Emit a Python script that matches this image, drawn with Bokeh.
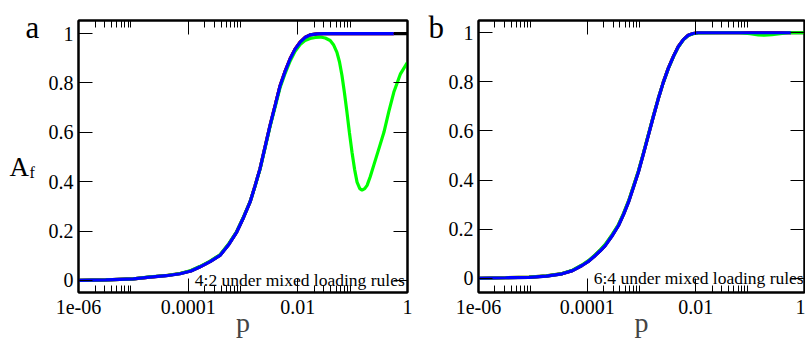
from bokeh.plotting import figure
from bokeh.layouts import row
from bokeh.models import (FixedTicker, LogAxis, LinearAxis, Label, Range1d,
                          CustomJSTickFormatter)
from bokeh.embed import file_html
from bokeh.resources import INLINE

# ---------------- data ----------------
# panel a : 4:2 under mixed loading rules   (x given as log10 p)
a_lp = [-6.0, -5.5, -5.0, -4.7, -4.4, -4.15, -3.95, -3.79, -3.6, -3.42, -3.27,
        -3.115, -2.99, -2.872, -2.78, -2.69, -2.6, -2.506, -2.41, -2.323, -2.23,
        -2.14, -2.05, -1.958, -1.87, -1.775, -1.65, -1.53, -1.2, -0.8, -0.5, -0.25]
a_blue = [0.0, 0.002, 0.006, 0.013, 0.019, 0.027, 0.038, 0.054, 0.076, 0.101, 0.142,
          0.196, 0.255, 0.317, 0.383, 0.452, 0.538, 0.628, 0.712, 0.789, 0.848,
          0.898, 0.937, 0.965, 0.984, 0.995, 0.999, 1.0, 1.0, 1.0, 1.0, 1.0]
a_red = [0.0, 0.002, 0.006, 0.013, 0.020, 0.028, 0.039, 0.055, 0.077, 0.103, 0.144,
         0.197, 0.256, 0.318, 0.384, 0.453, 0.539, 0.629, 0.713, 0.790, 0.849,
         0.899, 0.938, 0.966, 0.984, 0.995, 0.999, 1.0, 1.0, 1.0, 1.0, 1.0]
a_black_lp = a_lp + [0.0]
a_black = [0.0, 0.002, 0.006, 0.013, 0.019, 0.027, 0.038, 0.054, 0.076, 0.101, 0.142,
           0.196, 0.255, 0.317, 0.383, 0.452, 0.538, 0.628, 0.712, 0.789, 0.848,
           0.898, 0.937, 0.965, 0.984, 0.995, 0.999, 1.0, 1.0, 1.0, 1.0, 1.0, 1.0]
a_green_lp = [-6.0, -5.5, -5.0, -4.7, -4.4, -4.15, -3.95, -3.79, -3.6, -3.42, -3.27,
              -3.115, -2.99, -2.872, -2.78, -2.69, -2.6, -2.506, -2.41, -2.323, -2.23,
              -2.14, -2.05, -1.958, -1.87, -1.775, -1.68, -1.592, -1.5, -1.41, -1.35,
              -1.287, -1.24, -1.195, -1.15, -1.104, -1.06, -1.012, -0.965, -0.92,
              -0.87, -0.829, -0.78, -0.737, -0.68, -0.616, -0.52, -0.43, -0.34,
              -0.25, -0.128, 0.0]
a_green = [0.0, 0.002, 0.006, 0.014, 0.020, 0.028, 0.040, 0.056, 0.078, 0.104, 0.145,
           0.198, 0.257, 0.318, 0.382, 0.450, 0.535, 0.624, 0.706, 0.782, 0.840,
           0.889, 0.928, 0.956, 0.972, 0.980, 0.984, 0.986, 0.982, 0.972, 0.955,
           0.924, 0.885, 0.83, 0.76, 0.681, 0.60, 0.519, 0.45, 0.398,
           0.372, 0.366, 0.372, 0.385, 0.42, 0.466, 0.535, 0.6, 0.685,
           0.762, 0.837, 0.884]

# panel b : 6:4 under mixed loading rules
b_lp = [-6.0, -5.5, -5.07, -4.75, -4.462, -4.27, -4.095, -3.97, -3.85, -3.76, -3.668,
        -3.55, -3.423, -3.33, -3.24, -3.15, -3.057, -2.965, -2.874, -2.78, -2.69,
        -2.6, -2.507, -2.41, -2.324, -2.23, -2.14, -2.05, -1.958, -1.5, -1.0, -0.5,
        -0.25]
b_blue = [0.0, 0.002, 0.004, 0.009, 0.018, 0.031, 0.052, 0.07, 0.093, 0.112, 0.133,
          0.17, 0.215, 0.26, 0.31, 0.37, 0.433, 0.507, 0.582, 0.66, 0.732,
          0.797, 0.855, 0.905, 0.943, 0.972, 0.99, 0.997, 1.0, 1.0, 1.0, 1.0, 1.0]
b_red = [0.0, 0.002, 0.005, 0.010, 0.019, 0.032, 0.053, 0.072, 0.095, 0.115, 0.136,
         0.173, 0.218, 0.263, 0.313, 0.373, 0.436, 0.509, 0.584, 0.662, 0.733,
         0.798, 0.856, 0.906, 0.944, 0.972, 0.99, 0.997, 1.0, 1.0, 1.0, 1.0, 1.0]
b_black_lp = b_lp + [0.0]
b_black = [0.0, 0.002, 0.004, 0.009, 0.018, 0.031, 0.052, 0.07, 0.093, 0.112, 0.133,
           0.17, 0.215, 0.26, 0.31, 0.37, 0.433, 0.507, 0.582, 0.66, 0.732,
           0.797, 0.855, 0.905, 0.943, 0.972, 0.99, 0.997, 1.0, 1.0, 1.0, 1.0, 1.0, 1.0]
b_green_lp = [-6.0, -5.5, -5.07, -4.75, -4.462, -4.27, -4.095, -3.97, -3.85, -3.76,
              -3.668, -3.55, -3.423, -3.33, -3.24, -3.15, -3.057, -2.965, -2.874,
              -2.78, -2.69, -2.6, -2.507, -2.41, -2.324, -2.23, -2.14, -2.05, -1.958,
              -1.5, -1.2, -1.0, -0.85, -0.74, -0.6, -0.45, -0.3, 0.0]
b_green = [0.0, 0.002, 0.005, 0.010, 0.019, 0.033, 0.054, 0.073, 0.096, 0.116, 0.138,
           0.175, 0.219, 0.264, 0.314, 0.374, 0.437, 0.510, 0.585, 0.662, 0.733,
           0.797, 0.854, 0.904, 0.942, 0.971, 0.989, 0.996, 0.999,
           1.0, 1.0, 0.996, 0.991, 0.99, 0.992, 0.996, 1.0, 1.0]

x_ticks = [1e-6, 1e-4, 1e-2, 1.0]
x_tick_labels = ["1e-06", "0.0001", "0.01", "1"]
y_ticks = [0, 0.2, 0.4, 0.6, 0.8, 1]
y_tick_labels = ["0", "0.2", "0.4", "0.6", "0.8", "1"]
panel_letters = ["a", "b"]
panel_notes = ["4:2 under mixed loading rules", "6:4 under mixed loading rules"]
x_title = "p"
y_title_main, y_title_sub = "A", "f"

FONT = "Liberation Serif"
H = 342
x_minor = [k * t for t in x_ticks[:-1] for k in range(2, 10)]


def to_p(lp):
    return [10.0 ** v for v in lp]


def style_axis(ax, ticker, overrides=None, labels=True, minor=True):
    ax.ticker = ticker
    ax.axis_line_width = 2
    ax.axis_line_color = "black"
    ax.major_tick_in = 14
    ax.major_tick_out = 0
    ax.minor_tick_in = 7
    ax.minor_tick_out = 0
    ax.major_tick_line_color = "black"
    ax.major_tick_line_width = 1
    ax.minor_tick_line_color = "black" if minor else None
    ax.minor_tick_line_width = 1
    if labels:
        ax.major_label_overrides = overrides
        ax.major_label_text_font = FONT
        ax.major_label_text_font_size = "20px"
        ax.major_label_text_color = "black"
    else:
        ax.formatter = CustomJSTickFormatter(code="return ''")
        ax.major_label_standoff = 0
        ax.major_label_text_font_size = "1px"


def text_strip(width, items):
    """Plain strip (no axes, no title, frame = whole strip) for the texts that
    sit left of a panel's frame; data space equals pixel space."""
    s = figure(width=width, height=H, x_range=Range1d(0, width), y_range=Range1d(0, H),
               x_axis_location=None, y_axis_location=None, title=None,
               output_backend="svg", toolbar_location=None,
               min_border_left=0, min_border_right=0, min_border_top=0,
               min_border_bottom=0)
    s.frame_align = False
    s.grid.visible = False
    s.outline_line_color = None
    s.background_fill_color = "white"
    s.border_fill_color = "white"
    for txt, px, py, size in items:
        s.add_layout(Label(x=px, y=H - py, text=txt, text_font=FONT,
                           text_font_size=size, text_color="black",
                           text_align="left", text_baseline="alphabetic"))
    return s


def make_panel(width, bl, br, yr, series, note):
    p = figure(width=width, height=H, x_axis_type="log",
               x_range=Range1d(x_ticks[0], x_ticks[-1]), y_range=Range1d(*yr),
               output_backend="svg", toolbar_location=None,
               min_border_left=bl, min_border_right=br,
               min_border_top=20, min_border_bottom=50)
    p.grid.visible = False
    p.outline_line_color = "black"
    p.outline_line_width = 2
    p.background_fill_color = "white"
    p.border_fill_color = "white"

    xt = FixedTicker(ticks=x_ticks, minor_ticks=x_minor)
    yt = FixedTicker(ticks=y_ticks, minor_ticks=[])
    xa = p.xaxis[0]
    style_axis(xa, xt, dict(zip(x_ticks, x_tick_labels)))
    xa.major_label_standoff = 7
    xa.axis_label = x_title
    xa.axis_label_text_font = FONT
    xa.axis_label_text_font_size = "28px"
    xa.axis_label_text_font_style = "normal"
    xa.axis_label_standoff = -10
    style_axis(p.yaxis[0], yt, dict(zip(y_ticks, y_tick_labels)), minor=False)
    p.yaxis[0].major_label_standoff = 5

    top = LogAxis()
    style_axis(top, FixedTicker(ticks=x_ticks, minor_ticks=x_minor), labels=False)
    p.add_layout(top, "above")
    right = LinearAxis()
    style_axis(right, FixedTicker(ticks=y_ticks, minor_ticks=[]), labels=False,
               minor=False)
    p.add_layout(right, "right")

    for lp, vals, col in series:
        p.line(to_p(lp), vals, line_color=col, line_width=3.2)

    p.add_layout(Label(x=1.32e-4, y=0.0, text=note, text_font=FONT,
                       text_font_size="17.5px", text_color="black",
                       text_align="left", text_baseline="alphabetic"))
    return p


strip_a = text_strip(45, [(panel_letters[0], 25, 27, "31px"),
                          (y_title_main, 9, 166, "27px"),
                          (y_title_sub, 29, 172, "16px")])
pa = make_panel(375, 33, 13, (-0.049, 1.053),
                [(a_black_lp, a_black, "black"), (a_lp, a_red, "red"),
                 (a_green_lp, a_green, "#00ff00"), (a_lp, a_blue, "blue")],
                panel_notes[0])
strip_b = text_strip(25, [(panel_letters[1], 8, 27, "31px")])
pb = make_panel(360, 31, 1, (-0.058, 1.05),
                [(b_black_lp, b_black, "black"), (b_lp, b_red, "red"),
                 (b_green_lp, b_green, "#00ff00"), (b_lp, b_blue, "blue")],
                panel_notes[1])

layout = row(strip_a, pa, strip_b, pb)
open("out.html", "w").write(file_html(layout, INLINE))
